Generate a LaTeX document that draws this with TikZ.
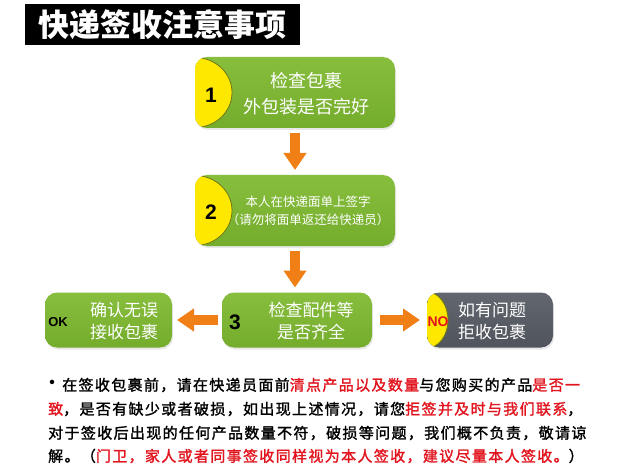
\documentclass[tikz,border=0pt]{standalone}
\usepackage{fontspec}
\newfontfamily\cjk{Noto Sans CJK SC}
\newfontfamily\cjkls{Noto Sans CJK SC}[LetterSpace=9,FakeBold=1.6]
\newfontfamily\lat{Liberation Sans}
\usetikzlibrary{arrows.meta,calc,shadows}
\definecolor{grnT}{RGB}{136,190,62}
\definecolor{grnB}{RGB}{116,172,44}
\definecolor{ylw}{RGB}{255,232,0}
\definecolor{ylwedge}{RGB}{110,120,20}
\definecolor{gryT}{RGB}{98,102,110}
\definecolor{gryB}{RGB}{80,84,92}
\definecolor{org}{RGB}{240,128,22}
\definecolor{txtred}{RGB}{226,20,30}
\newcommand\hl[1]{\textcolor{txtred}{#1}}
\begin{document}
\begin{tikzpicture}[x=1pt,y=-1pt,
  gbox/.style={rounded corners=12pt, inner sep=0pt, outer sep=0pt,
    top color=grnT, bottom color=grnB,
    drop shadow={opacity=0.18,shadow xshift=1pt,shadow yshift=-2pt}},
  dbox/.style={rounded corners=12pt, inner sep=0pt, outer sep=0pt,
    top color=gryT, bottom color=gryB,
    drop shadow={opacity=0.18,shadow xshift=1pt,shadow yshift=-2pt}},
  lens/.style={fill=ylw, draw=ylwedge, line width=0.8pt},
  wtxt/.style={text=white, inner sep=0pt, align=center},
  num/.style={inner sep=0pt, font=\lat\bfseries\fontsize{21}{21}\selectfont},
  blockarrow/.style={draw=org, line width=10pt,
    -{Triangle[width=22pt,length=17pt,fill=org,color=org]}},
  para/.style={anchor=west, inner sep=0pt, font=\cjkls\fontsize{15}{15}\selectfont}
]
\useasboundingbox[fill=white] (0,0) rectangle (635,468);

% title
\node[fill=black, minimum width=275pt, minimum height=41pt, inner sep=0pt,
  text=white, font=\cjk\bfseries\fontsize{31}{31}\selectfont] (title) at (162.5,25) {快递签收注意事项};

% box 1
\node[gbox, minimum width=200pt, minimum height=71pt] (b1) at (295,92.5) {};
\begin{scope}
  \clip[rounded corners=12pt] (b1.south west) rectangle (b1.north east);
  \path[lens] (b1.west) ellipse [x radius=37pt, y radius=35pt];
\end{scope}
\node[num] (n1) at (211,95) {1};
\node[wtxt, font=\cjk\fontsize{18}{26}\selectfont] (t1) at (306,94) {检查包裹\\外包装是否完好};

% box 2
\node[gbox, minimum width=200pt, minimum height=71pt] (b2) at (295,210.5) {};
\begin{scope}
  \clip[rounded corners=12pt] (b2.south west) rectangle (b2.north east);
  \path[lens] (b2.west) ellipse [x radius=37pt, y radius=35pt];
\end{scope}
\node[num] (n2) at (211,212) {2};
\node[wtxt, font=\cjk\fontsize{12.5}{18}\selectfont] (t2) at (308,211) {本人在快递面单上签字\\（请勿将面单返还给快递员）};

% box 3
\node[gbox, minimum width=150pt, minimum height=55pt] (b3) at (297,320) {};
\node[num] (n3) at (235,322) {3};
\node[wtxt, font=\cjk\fontsize{17}{22}\selectfont] (t3) at (311,321) {检查配件等\\是否齐全};

% OK box
\node[gbox, minimum width=127pt, minimum height=55pt] (ok) at (108.5,320) {};
\node[inner sep=0pt, font=\lat\bfseries\fontsize{13}{13}\selectfont] (okl) at (58,322) {OK};
\node[wtxt, font=\cjk\fontsize{17}{22}\selectfont] (tok) at (124,321) {确认无误\\接收包裹};

% NO box
\node[dbox, minimum width=126pt, minimum height=55pt] (no) at (490,320) {};
\begin{scope}
  \clip[rounded corners=12pt] (no.south west) rectangle (no.north east);
  \path[lens] (no.west) ellipse [x radius=21pt, y radius=28pt];
\end{scope}
\node[inner sep=0pt, text=txtred, font=\lat\bfseries\fontsize{14}{14}\selectfont] (nol) at (438,322) {NO};
\node[wtxt, font=\cjk\fontsize{17}{22}\selectfont] (tno) at (492,321) {如有问题\\拒收包裹};

% arrows
\draw[blockarrow] ($(b1.south)+(0,5)$) -- ($(b2.north)+(0,-5)$);
\draw[blockarrow] ($(b2.south)+(0,5)$) -- ($(b3.north)+(-2,-5)$);
\draw[blockarrow] ($(b3.west)+(-4,0)$) -- ($(ok.east)+(5,0)$);
\draw[blockarrow] ($(b3.east)+(8,0)$) -- ($(no.west)+(-7,0)$);

% paragraph
\node[inner sep=0pt, font=\cjk\bfseries\fontsize{16}{16}\selectfont] (bul) at (52,384) {•};
\node[para] (l1) at (62,385) {在签收包裹前，请在快递员面前\hl{清点产品以及数量}与您购买的产品\hl{是否一}};
\node[para] (l2) at (48,409) {\hl{致}，是否有缺少或者破损，如出现上述情况，请您\hl{拒签并及时与我们联系}，};
\node[para] (l3) at (48,433) {对于签收后出现的任何产品数量不符，破损等问题，我们概不负责，敬请谅};
\node[para] (l4) at (48,456) {解。（\hl{门卫，家人或者同事签收同样视为本人签收，建议尽量本人签收。}）};
\end{tikzpicture}
\end{document}
